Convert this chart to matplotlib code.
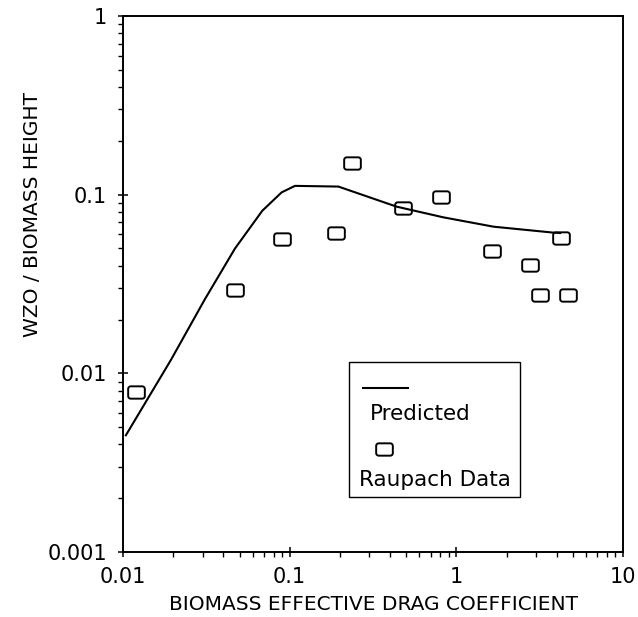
import matplotlib
matplotlib.use("Agg")
import matplotlib.pyplot as plt
import numpy as np
from matplotlib.lines import Line2D
from matplotlib.patches import Rectangle
from matplotlib.path import Path
from matplotlib.ticker import LogLocator, FixedLocator, FixedFormatter, NullFormatter

# predicted roughness ratio along the drag-coefficient axis
pred_cd = [0.0104, 0.0194, 0.031, 0.047, 0.0686, 0.0895, 0.1076, 0.196, 0.438, 0.834, 1.67, 3.83, 4.2]
pred_z0 = [0.0045, 0.0119, 0.026, 0.050, 0.0814, 0.103, 0.112, 0.111, 0.0857, 0.0747, 0.0662, 0.0613, 0.061]

# Raupach wind-tunnel measurements
rau_cd = [0.0119, 0.047, 0.090, 0.190, 0.238, 0.48, 0.809, 1.64, 2.76, 3.17, 4.23, 4.67]
rau_z0 = [0.0079, 0.0294, 0.0565, 0.061, 0.151, 0.0846, 0.0967, 0.0484, 0.0404, 0.0275, 0.0574, 0.0275]

xticks = [0.01, 0.1, 1, 10]
xtick_labels = ["0.01", "0.1", "1", "10"]
yticks = [0.001, 0.01, 0.1, 1]
ytick_labels = ["0.001", "0.01", "0.1", "1"]

plt.rcParams["font.family"] = "DejaVu Sans"
plt.rcParams["font.size"] = 14.5


def rounded_box(w=1.0, h=0.74, r=0.3, n=5):
    """Plotter-style open box marker, wider than tall with rounded corners."""
    verts = []
    centers = [(w - r, -h + r, -90), (w - r, h - r, 0), (-w + r, h - r, 90), (-w + r, -h + r, 180)]
    for cx, cy, a0 in centers:
        for t in np.linspace(a0, a0 + 90, n):
            verts.append((cx + r * np.cos(np.radians(t)), cy + r * np.sin(np.radians(t))))
    verts.append(verts[0])
    codes = [Path.MOVETO] + [Path.LINETO] * (len(verts) - 2) + [Path.CLOSEPOLY]
    return Path(verts, codes)


BOX = rounded_box()
MS = 12

fig = plt.figure(figsize=(6.38, 6.17), dpi=100)
ax = fig.add_axes([0.1928, 0.1053, 0.7837, 0.8688])

ax.plot(pred_cd, pred_z0, color="black", lw=1.5, solid_joinstyle="miter")
ax.plot(rau_cd, rau_z0, linestyle="none", marker=BOX, ms=MS,
        mfc="none", mec="black", mew=1.4)

ax.set_xscale("log")
ax.set_yscale("log")
ax.set_xlim(0.01, 10)
ax.set_ylim(0.001, 1)

ax.xaxis.set_major_locator(FixedLocator(xticks))
ax.xaxis.set_major_formatter(FixedFormatter(xtick_labels))
ax.yaxis.set_major_locator(FixedLocator(yticks))
ax.yaxis.set_major_formatter(FixedFormatter(ytick_labels))
ax.xaxis.set_minor_locator(LogLocator(base=10, subs=np.arange(2, 10)))
ax.yaxis.set_minor_locator(LogLocator(base=10, subs=np.arange(2, 10)))
ax.xaxis.set_minor_formatter(NullFormatter())
ax.yaxis.set_minor_formatter(NullFormatter())

ax.tick_params(which="major", direction="inout", length=7, width=1.1, color="black",
               labelsize=15)
ax.tick_params(which="minor", direction="out", length=3.5, width=1.0, color="black")
ax.tick_params(axis="x", which="major", pad=7)
ax.tick_params(axis="y", which="major", pad=8)
ax.tick_params(top=False, right=False, which="both")

for s in ax.spines.values():
    s.set_linewidth(1.4)

ax.set_xlabel("BIOMASS EFFECTIVE DRAG COEFFICIENT", labelpad=6)
ax.set_ylabel("WZO / BIOMASS HEIGHT")
ax.yaxis.set_label_coords(-0.163, 0.63)

# hand-built key: handle sits above its label
ax.add_patch(Rectangle((0.452, 0.1026), 0.342, 0.252, transform=ax.transAxes,
                       fill=False, lw=1.0, ec="black"))
ax.add_line(Line2D([0.48, 0.57], [0.306, 0.306], transform=ax.transAxes,
                   color="black", lw=1.5))
ax.text(0.494, 0.2575, "Predicted", transform=ax.transAxes, ha="left", va="center",
        fontsize=15.5)
ax.add_line(Line2D([0.521], [0.192], transform=ax.transAxes, linestyle="none",
                   marker=BOX, ms=MS, mfc="none", mec="black", mew=1.4))
ax.text(0.471, 0.134, "Raupach Data", transform=ax.transAxes, ha="left", va="center",
        fontsize=15.5)

fig.savefig("out.png", dpi=100)
